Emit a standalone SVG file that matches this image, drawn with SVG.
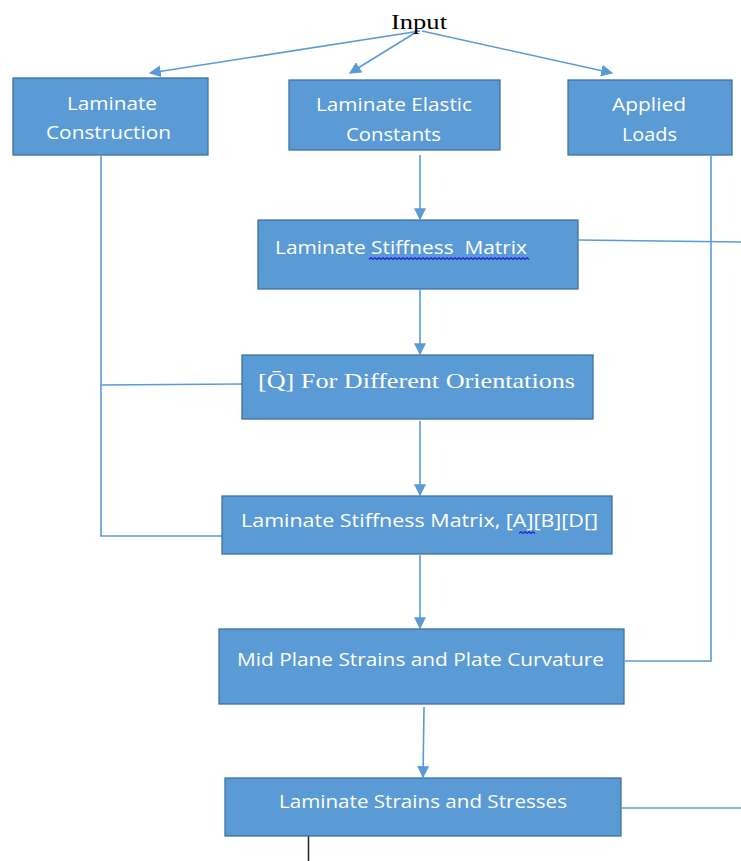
<svg xmlns="http://www.w3.org/2000/svg" width="741" height="861" viewBox="0 0 741 861">
<style>
.box{fill:#5B9BD5;stroke:#41719C;stroke-width:1.3}
.t{fill:#fff;font-family:"Open Sans","Noto Sans","Liberation Sans",sans-serif;font-size:19px;white-space:pre}
.s{fill:#fff;font-family:"Liberation Serif","DejaVu Serif",serif;font-size:22px}
.ln{fill:none;stroke:#5B9BD5;stroke-width:1.6}
.wavy{fill:none;stroke:#2a2ad8;stroke-width:1.3}
</style>
<defs>
<marker id="ah2" viewBox="0 0 10 10" refX="9" refY="5" markerWidth="12" markerHeight="12" orient="auto" markerUnits="userSpaceOnUse">
<path d="M0,0 L10,5 L0,10 z" fill="#5B9BD5"/>
</marker>
</defs>
<rect width="741" height="861" fill="#fff"/>
<g id="connectors">
<line class="ln" x1="420" y1="31" x2="150" y2="73" marker-end="url(#ah2)"/>
<line class="ln" x1="418" y1="31" x2="350" y2="73" marker-end="url(#ah2)"/>
<line class="ln" x1="422" y1="31" x2="612" y2="73" marker-end="url(#ah2)"/>
<line class="ln" x1="420" y1="155" x2="420" y2="219" marker-end="url(#ah2)"/>
<line class="ln" x1="420" y1="290" x2="420" y2="354" marker-end="url(#ah2)"/>
<line class="ln" x1="420" y1="421" x2="420" y2="495" marker-end="url(#ah2)"/>
<line class="ln" x1="420" y1="555" x2="420" y2="628" marker-end="url(#ah2)"/>
<line class="ln" x1="424" y1="707" x2="423" y2="777" marker-end="url(#ah2)"/>
<line class="ln" x1="579" y1="240" x2="741" y2="242"/>
<polyline class="ln" points="711,156 711,661 625,661"/>
<polyline class="ln" points="101,156 101,536 222,536"/>
<line class="ln" x1="101" y1="385" x2="242" y2="384"/>
<line class="ln" x1="622" y1="808" x2="741" y2="808"/>
<line x1="308.5" y1="831" x2="308.5" y2="861" stroke="#222" stroke-width="1.5"/>
</g>
<g id="input">
<text x="419" y="29" text-anchor="middle" font-family="Liberation Serif,serif" font-size="21" fill="#000" textLength="56" lengthAdjust="spacingAndGlyphs">Input</text>
</g>
<g id="laminate-construction">
<rect class="box" x="13" y="78" width="195" height="77"/>
<text class="t" x="112" y="110" text-anchor="middle" textLength="90" lengthAdjust="spacingAndGlyphs">Laminate</text>
<text class="t" x="108.5" y="139" text-anchor="middle" textLength="125" lengthAdjust="spacingAndGlyphs">Construction</text>
</g>
<g id="laminate-elastic-constants">
<rect class="box" x="289" y="80" width="211" height="70"/>
<text class="t" x="394" y="111" text-anchor="middle" textLength="156" lengthAdjust="spacingAndGlyphs">Laminate Elastic</text>
<text class="t" x="393.5" y="141" text-anchor="middle" textLength="95" lengthAdjust="spacingAndGlyphs">Constants</text>
</g>
<g id="applied-loads">
<rect class="box" x="568" y="80" width="164" height="75"/>
<text class="t" x="649" y="111" text-anchor="middle" textLength="74" lengthAdjust="spacingAndGlyphs">Applied</text>
<text class="t" x="649.5" y="141" text-anchor="middle" textLength="55" lengthAdjust="spacingAndGlyphs">Loads</text>
</g>
<g id="laminate-stiffness-matrix">
<rect class="box" x="258" y="220" width="320" height="69"/>
<text class="t" x="275" y="254" textLength="252" lengthAdjust="spacingAndGlyphs">Laminate Stiffness  Matrix</text>
<path class="wavy" d="M369,259.5 l2,-1.8 l2,1.8 l2,-1.8 l2,1.8 l2,-1.8 l2,1.8 l2,-1.8 l2,1.8 l2,-1.8 l2,1.8 l2,-1.8 l2,1.8 l2,-1.8 l2,1.8 l2,-1.8 l2,1.8 l2,-1.8 l2,1.8 l2,-1.8 l2,1.8 l2,-1.8 l2,1.8 l2,-1.8 l2,1.8 l2,-1.8 l2,1.8 l2,-1.8 l2,1.8 l2,-1.8 l2,1.8 l2,-1.8 l2,1.8 l2,-1.8 l2,1.8 l2,-1.8 l2,1.8 l2,-1.8 l2,1.8 l2,-1.8 l2,1.8 l2,-1.8 l2,1.8 l2,-1.8 l2,1.8 l2,-1.8 l2,1.8 l2,-1.8 l2,1.8 l2,-1.8 l2,1.8 l2,-1.8 l2,1.8 l2,-1.8 l2,1.8 l2,-1.8 l2,1.8 l2,-1.8 l2,1.8 l2,-1.8 l2,1.8 l2,-1.8 l2,1.8 l2,-1.8 l2,1.8 l2,-1.8 l2,1.8 l2,-1.8 l2,1.8 l2,-1.8 l2,1.8 l2,-1.8 l2,1.8 l2,-1.8 l2,1.8 l2,-1.8 l2,1.8 l2,-1.8 l2,1.8 l2,-1.8 l2,1.8"/>
</g>
<g id="q-bar-orientations">
<rect class="box" x="242" y="355" width="351" height="64"/>
<text class="s" x="258" y="388" textLength="317" lengthAdjust="spacingAndGlyphs">[Q̄] For Different Orientations</text>
</g>
<g id="laminate-stiffness-abd">
<rect class="box" x="222" y="496" width="390" height="58"/>
<text class="t" x="241" y="527" textLength="357" lengthAdjust="spacingAndGlyphs">Laminate Stiffness Matrix, [A][B][D[]</text>
<path class="wavy" d="M519,533.5 l2,-1.8 l2,1.8 l2,-1.8 l2,1.8 l2,-1.8 l2,1.8 l2,-1.8 l2,1.8"/>
</g>
<g id="mid-plane-strains">
<rect class="box" x="219" y="629" width="405" height="75"/>
<text class="t" x="420.5" y="666" text-anchor="middle" textLength="367" lengthAdjust="spacingAndGlyphs">Mid Plane Strains and Plate Curvature</text>
</g>
<g id="laminate-strains-stresses">
<rect class="box" x="225" y="778" width="396" height="58"/>
<text class="t" x="423" y="808" text-anchor="middle" textLength="288" lengthAdjust="spacingAndGlyphs">Laminate Strains and Stresses</text>
</g>
</svg>
